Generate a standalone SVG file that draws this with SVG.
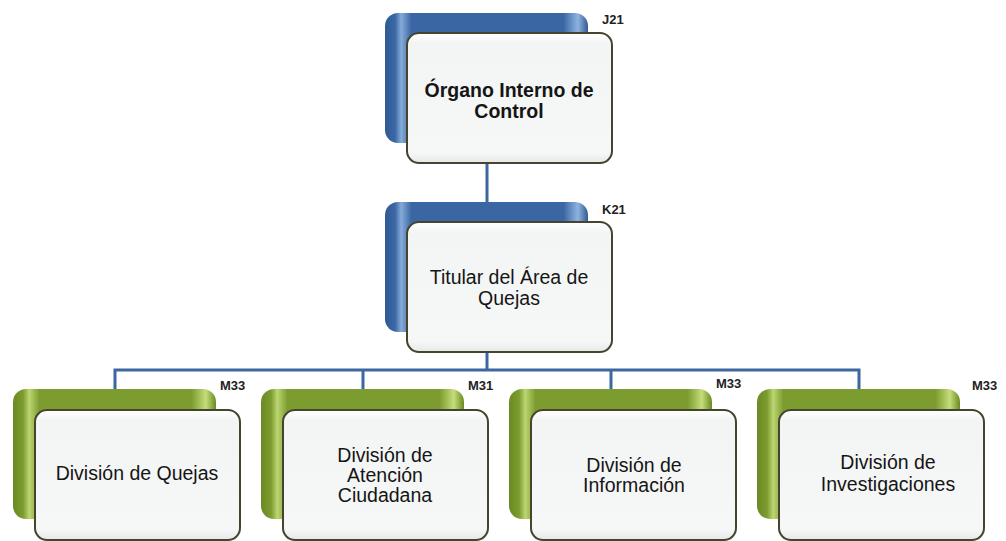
<svg xmlns="http://www.w3.org/2000/svg" width="1006" height="541" viewBox="0 0 1006 541">
<defs>
<linearGradient id="gBlue" x1="0" y1="0" x2="1" y2="0">
<stop offset="0" stop-color="#2f5a93"/>
<stop offset="0.05" stop-color="#3b68a5"/>
<stop offset="0.08" stop-color="#86abd9"/>
<stop offset="0.13" stop-color="#3a67a3"/>
<stop offset="0.88" stop-color="#3a67a3"/>
<stop offset="0.95" stop-color="#8fb3e0"/>
<stop offset="1" stop-color="#2f5a93"/>
</linearGradient>
<linearGradient id="gGreen" x1="0" y1="0" x2="1" y2="0">
<stop offset="0" stop-color="#6a8a22"/>
<stop offset="0.05" stop-color="#7c9c30"/>
<stop offset="0.08" stop-color="#bcd672"/>
<stop offset="0.13" stop-color="#7c9c30"/>
<stop offset="0.88" stop-color="#7c9c30"/>
<stop offset="0.95" stop-color="#c5dd7a"/>
<stop offset="1" stop-color="#6a8a22"/>
</linearGradient>
<linearGradient id="gFront" x1="0" y1="0" x2="0" y2="1">
<stop offset="0" stop-color="#ffffff"/>
<stop offset="0.08" stop-color="#f3f5f5"/>
<stop offset="0.92" stop-color="#f6f7f7"/>
<stop offset="1" stop-color="#e6e8e8"/>
</linearGradient>
<style>
.blue{fill:url(#gBlue);}
.green{fill:url(#gGreen);}
.front{fill:url(#gFront);stroke:#45452f;stroke-width:2;}
.t{font-family:"Liberation Sans",Arial,sans-serif;font-size:19.5px;fill:#151515;text-anchor:middle;}
.b{font-weight:bold;}
.code{font-family:"Liberation Sans",Arial,sans-serif;font-size:13px;font-weight:bold;fill:#222;}
.conn{stroke:#3d67a0;stroke-width:3;fill:none;}
</style>
</defs>
<rect width="1006" height="541" fill="#ffffff"/>
<g id="connectors">
<line class="conn" x1="487" y1="143" x2="487" y2="202"/>
<line class="conn" x1="487" y1="333" x2="487" y2="370"/>
<polyline class="conn" points="115,389 115,370 859,370 859,389"/>
<line class="conn" x1="363" y1="370" x2="363" y2="389"/>
<line class="conn" x1="611" y1="370" x2="611" y2="389"/>
</g>
<g id="node-oic">
<rect class="blue" x="385" y="13" width="203" height="130" rx="13"/>
<rect class="front" x="407" y="33" width="205" height="130" rx="12"/>
<text class="t b" x="509" y="97">Órgano Interno de</text>
<text class="t b" x="509" y="118">Control</text>
<text class="code" x="602" y="24">J21</text>
</g>
<g id="node-titular">
<rect class="blue" x="385" y="202" width="203" height="130" rx="13"/>
<rect class="front" x="407" y="222" width="205" height="130" rx="12"/>
<text class="t" x="509" y="284">Titular del Área de</text>
<text class="t" x="509" y="305">Quejas</text>
<text class="code" x="602" y="214">K21</text>
</g>
<g id="node-quejas">
<rect class="green" x="13" y="389" width="203" height="130" rx="13"/>
<rect class="front" x="35" y="410" width="205" height="130" rx="12"/>
<text class="t" x="137" y="480">División de Quejas</text>
<text class="code" x="220" y="390">M33</text>
</g>
<g id="node-atencion">
<rect class="green" x="261" y="389" width="203" height="130" rx="13"/>
<rect class="front" x="283" y="410" width="205" height="130" rx="12"/>
<text class="t" x="385" y="462">División de</text>
<text class="t" x="385" y="482">Atención</text>
<text class="t" x="385" y="502">Ciudadana</text>
<text class="code" x="468" y="390">M31</text>
</g>
<g id="node-informacion">
<rect class="green" x="509" y="389" width="203" height="130" rx="13"/>
<rect class="front" x="531" y="410" width="205" height="130" rx="12"/>
<text class="t" x="634" y="472">División de</text>
<text class="t" x="634" y="492">Información</text>
<text class="code" x="716" y="388">M33</text>
</g>
<g id="node-investigaciones">
<rect class="green" x="757" y="389" width="203" height="130" rx="13"/>
<rect class="front" x="779" y="410" width="205" height="130" rx="12"/>
<text class="t" x="888" y="469">División de</text>
<text class="t" x="888" y="491">Investigaciones</text>
<text class="code" x="972" y="390">M33</text>
</g>
</svg>
